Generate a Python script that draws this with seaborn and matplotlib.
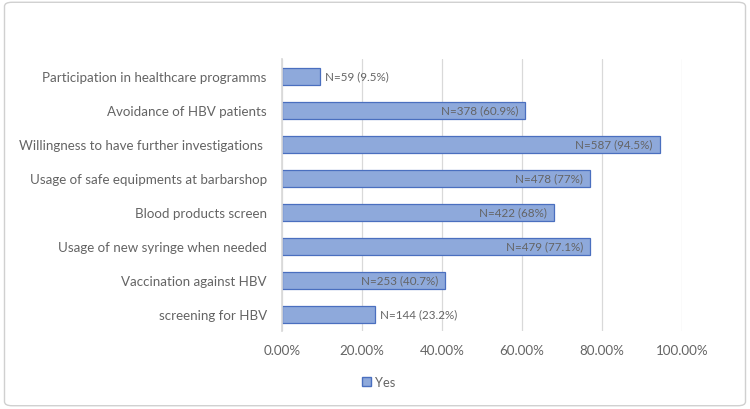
import matplotlib
matplotlib.use("Agg")
import matplotlib.pyplot as plt
import seaborn as sns
import pandas as pd
from matplotlib.patches import FancyBboxPatch, Patch
from matplotlib.ticker import PercentFormatter

# chart data (top to bottom)
practices = [
    "Participation in healthcare programms",
    "Avoidance of HBV patients",
    "Willingness to have further investigations ",
    "Usage of safe equipments at barbarshop",
    "Blood products screen",
    "Usage of new syringe when needed",
    "Vaccination against HBV",
    "screening for HBV",
]
counts = [59, 378, 587, 478, 422, 479, 253, 144]
percents = [9.5, 60.9, 94.5, 77, 68, 77.1, 40.7, 23.2]
x_ticks = [0, 0.2, 0.4, 0.6, 0.8, 1.0]

df = pd.DataFrame({"practice": practices, "share": [p / 100 for p in percents],
                   "n": counts, "pct": percents})

sns.set_theme(style="white")
plt.rcParams["font.family"] = ["Lato", "DejaVu Sans"]

text_grey = "#646464"
fill = "#8EA9DB"
edge = "#4A6FBF"

fig = plt.figure(figsize=(7.5, 4.1), dpi=100)
ax = fig.add_axes([0.376, 0.19, 0.533, 0.663])

sns.barplot(data=df, x="share", y="practice", orient="h", color=fill,
            width=0.5, edgecolor=edge, linewidth=0.9, saturation=1, ax=ax)

ax.set_xlim(0, 1.0)
ax.set_xticks(x_ticks)
ax.xaxis.set_major_formatter(PercentFormatter(xmax=1, decimals=2))
ax.grid(axis="x", color="#D9D9D9", linewidth=0.9)
ax.set_axisbelow(True)
for side in ["top", "right", "bottom"]:
    ax.spines[side].set_visible(False)
ax.spines["left"].set_color("#D9D9D9")
ax.set_xlabel("")
ax.set_ylabel("")
ax.tick_params(axis="both", length=0, labelsize=9.6, labelcolor=text_grey)
ax.tick_params(axis="y", pad=11)
ax.tick_params(axis="x", pad=9)

# data labels: inside end for long bars, outside end for short ones
for i, row in df.iterrows():
    label = f"N={row['n']} ({row['pct']:g}%)"
    if row["share"] >= 0.4:
        ax.annotate(label, (row["share"], i), xytext=(-5, 0), textcoords="offset points",
                    ha="right", va="center", fontsize=8.4, color=text_grey)
    else:
        ax.annotate(label, (row["share"], i), xytext=(3.5, 0), textcoords="offset points",
                    ha="left", va="center", fontsize=8.4, color=text_grey)

fig.legend(handles=[Patch(facecolor=fill, edgecolor=edge, label="Yes")],
           loc="center", bbox_to_anchor=(0.505, 0.066), frameon=False,
           fontsize=9.3, labelcolor=text_grey, handlelength=0.7, handleheight=0.7,
           handletextpad=0.3)

fig.patches.append(FancyBboxPatch((0.006, 0.008), 0.988, 0.984,
                                  boxstyle="round,pad=0,rounding_size=0.01",
                                  transform=fig.transFigure, facecolor="none",
                                  edgecolor="#D0D0D0", linewidth=1))

fig.savefig("out.png", dpi=100)
